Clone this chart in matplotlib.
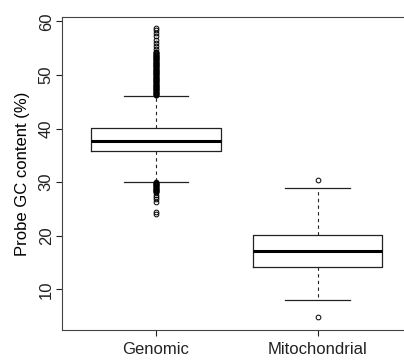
import matplotlib
matplotlib.use('Agg')
import matplotlib.pyplot as plt

plt.rcParams['font.family'] = ['Liberation Sans', 'DejaVu Sans']

groups = ['Genomic', 'Mitochondrial']

# box statistics
q1 = [35.9, 14.15]
medians = [37.75, 17.2]
q3 = [40.1, 20.1]
whisker_lo = [30.1, 8.0]
whisker_hi = [46.1, 28.95]

genomic_outliers = [
    46.2, 46.3, 46.4, 46.5, 46.6, 46.7, 46.8, 46.9, 47.0, 47.1,
    47.2, 47.3, 47.4, 47.5, 47.6, 47.7, 47.8, 47.9, 48.0, 48.1,
    48.2, 48.3, 48.4, 48.5, 48.6, 48.7, 48.8, 48.9, 49.0, 49.1,
    49.2, 49.3, 49.4, 49.5, 49.6, 49.7, 49.8, 49.9, 50.0, 50.1,
    50.2, 50.3, 50.4, 50.5, 50.6, 50.7, 50.8, 50.9, 51.0, 51.1,
    51.2, 51.3, 51.4, 51.5, 51.6, 51.7, 51.8, 51.9, 52.0, 52.1,
    52.2, 52.3, 52.4, 52.5, 52.6, 52.7, 52.8, 52.9, 53.0, 53.1,
    53.2, 53.3, 53.4, 53.5, 53.6, 53.7, 53.8, 53.9, 54.0, 54.1,
    54.2, 54.3, 54.8, 55.4, 56.0, 56.6, 57.2, 57.8, 58.3, 58.7,
    30.0, 29.9, 29.8, 29.7, 29.6, 29.5, 29.4, 29.3, 29.2, 29.1,
    29.0, 28.9, 28.8, 28.7, 28.6, 28.5, 28.4, 28.3, 28.2, 28.1,
    27.7, 27.2, 26.8, 26.4, 24.4, 24.0,
]
mito_outliers = [30.45, 4.85]

stats = []
for i, name in enumerate(groups):
    stats.append({
        'label': name,
        'q1': q1[i], 'med': medians[i], 'q3': q3[i],
        'whislo': whisker_lo[i], 'whishi': whisker_hi[i],
        'fliers': [genomic_outliers, mito_outliers][i],
    })

fig = plt.figure(figsize=(4.04, 3.61), dpi=100)
ax = fig.add_axes([62 / 404, 31 / 361, 349.6 / 404, 313.3 / 361])

ax.bxp(stats, positions=[1, 2], widths=0.8,
       boxprops=dict(color='#222222', linewidth=0.9),
       medianprops=dict(color='black', linewidth=2.2),
       whiskerprops=dict(color='#222222', linewidth=0.8, linestyle=(0, (3, 3))),
       capprops=dict(color='#222222', linewidth=0.9),
       capwidths=0.4,
       flierprops=dict(marker='o', markersize=3.4, markerfacecolor='none',
                       markeredgecolor='black', markeredgewidth=0.7))

ax.set_xlim(0.42, 2.58)
ax.set_ylim(2.44, 60.86)
ax.set_yticks([10, 20, 30, 40, 50, 60])
ax.set_yticklabels(['10', '20', '30', '40', '50', '60'], rotation=90, va='center')
ax.set_xticks([1, 2])
ax.set_xticklabels(groups)
ax.tick_params(axis='y', length=4, width=0.8, pad=2, labelsize=12, colors='#222222')
ax.tick_params(axis='x', length=4, width=0.8, pad=5, labelsize=12, colors='#222222')
ax.set_ylabel('Probe GC content (%)', fontsize=12, labelpad=6)

ax.spines['right'].set_visible(False)
for s in ['left', 'top', 'bottom']:
    ax.spines[s].set_linewidth(0.8)
    ax.spines[s].set_color('#444444')

fig.savefig('out.png', dpi=100)
